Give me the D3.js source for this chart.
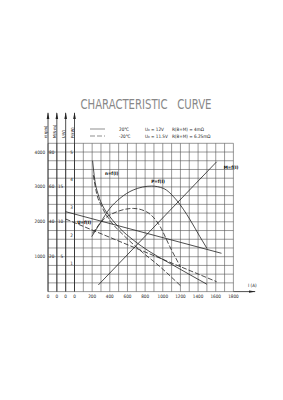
<!DOCTYPE html>
<html>
<head>
<meta charset="utf-8">
<script src="https://cdn.jsdelivr.net/npm/d3@7"></script>
<style>
  html, body { margin: 0; padding: 0; background: #fff; }
  svg { display: block; font-family: "Liberation Sans Narrow", "DejaVu Sans Condensed", "Liberation Sans", sans-serif; }
  .grid line { stroke: #555; stroke-width: 0.6; }
  .curve { fill: none; stroke: #222; stroke-width: 0.8; }
  .dashed { stroke-dasharray: 5 2; }
  .lbl { fill: #222; font-size: 4.6px; }
</style>
</head>
<body>
<div class="container"></div>
<script>
// current ticks along the bottom (A)
var currentTicks = [200, 400, 600, 800, 1000, 1200, 1400, 1600, 1800];
// left axes tick labels, each in its own unit
var speedTicks = [1000, 2000, 3000, 4000];       // n (rpm)
var torqueTicks = [20, 40, 60, 80];              // M (N·m)
var voltTicks = [5, 10, 15];                     // U (V)
var powerTicks = [1, 2, 3, 4, 5];                // P (kW)
var axisNames = ['n(rpm)', 'M(N·m)', 'U(V)', 'P(kW)'];

// [I (A), value]
var speed20 = [[205, 3750], [230, 3200], [270, 2770], [325, 2430], [400, 2150], [515, 1810],
    [665, 1480], [855, 1140], [1080, 810], [1310, 480], [1500, 210]];
var speedMinus20 = [[213, 3340], [250, 2820], [310, 2430], [400, 2050], [555, 1620],
    [740, 1190], [970, 710], [1200, 170]];
var power20 = [[195, 1.97], [290, 2.45], [400, 2.98], [515, 3.34], [665, 3.64], [875, 3.78],
    [1005, 3.70], [1155, 3.28], [1310, 2.57], [1420, 1.97], [1500, 1.55]];
var powerMinus20 = [[205, 2.09], [325, 2.57], [480, 2.86], [665, 2.98], [815, 2.86],
    [970, 2.33], [1080, 1.61], [1200, 0.89]];
var torque20 = [[270, 3.8], [1610, 74.4]];
var volt20 = [[-100, 11.45], [1665, 5.49]];
var voltMinus20 = [[-100, 10.4], [1610, 1.42]];

var legendTemps = ['20℃', '-20℃'];
var legendVolts = ['U₀ = 12V', 'U₀ = 11.5V'];
var legendRes = ['R(B+M) = 4mΩ', 'R(B+M) = 6.25mΩ'];

var WIDTH = 283, HEIGHT = 400;
var _svg;

var _x = d3.scaleLinear().domain([0, 1800]).range([74.5, 233.4]);
var _yN = d3.scaleLinear().domain([0, 4250]).range([291.6, 143.3]);
var _yM = d3.scaleLinear().domain([0, 85]).range([291.6, 143.3]);
var _yU = d3.scaleLinear().domain([0, 21.25]).range([291.6, 143.3]);
var _yP = d3.scaleLinear().domain([0, 5.3125]).range([291.6, 143.3]);

var drawCurve = function (data, yScale, dashed, curve) {
    var line = d3.line()
        .x(function (d) { return _x(d[0]); })
        .y(function (d) { return yScale(d[1]); })
        .curve(curve || d3.curveLinear);
    _svg.append('path')
        .datum(data)
        .attr('d', line)
        .classed('curve', true)
        .classed('dashed', dashed);
};

var drawChart = function () {
    _svg = d3.select('.container').append('svg')
        .attr('width', WIDTH).attr('height', HEIGHT);
    _svg.append('rect').attr('width', WIDTH).attr('height', HEIGHT).attr('fill', '#fff');

    _svg.append('text')
        .attr('x', 80.5).attr('y', 109.3)
        .attr('textLength', 131).attr('lengthAdjust', 'spacingAndGlyphs')
        .attr('fill', '#888').style('font-size', '13.5px').style('white-space', 'pre')
        .text('CHARACTERISTIC   CURVE');

    // grid
    var grid = _svg.append('g').attr('class', 'grid');
    grid.selectAll('.v').data(d3.range(-300, 1801, 100)).enter().append('line')
        .attr('x1', _x).attr('x2', _x)
        .attr('y1', _yN(0)).attr('y2', _yN(4250));
    grid.selectAll('.h').data(d3.range(0, 4251, 250)).enter().append('line')
        .attr('x1', _x(-300)).attr('x2', _x(1800))
        .attr('y1', _yN).attr('y2', _yN);

    // vertical axes with arrows
    var axisX = [-300, -200, -100, 0].map(_x);
    var axes = _svg.append('g');
    axisX.forEach(function (ax, i) {
        axes.append('line').attr('x1', ax).attr('x2', ax)
            .attr('y1', _yN(0)).attr('y2', 113)
            .attr('stroke', '#222').attr('stroke-width', 0.8);
        axes.append('path')
            .attr('d', 'M' + ax + ',112L' + (ax - 1.3) + ',119L' + (ax + 1.3) + ',119Z')
            .attr('fill', '#222');
        axes.append('text')
            .attr('transform', 'translate(' + (ax - 1) + ',138) rotate(-90)')
            .attr('class', 'lbl').style('font-size', '4px')
            .text(axisNames[i]);
        axes.append('text')
            .attr('x', ax).attr('y', 297.5).attr('text-anchor', 'middle')
            .attr('class', 'lbl').text('0');
    });

    // tick labels for each left axis
    _svg.append('g').selectAll('text').data(speedTicks).enter().append('text')
        .attr('x', axisX[0] - 3).attr('y', function (d) { return _yN(d) + 1.5; })
        .attr('text-anchor', 'end').attr('class', 'lbl').text(String);
    _svg.append('g').selectAll('text').data(torqueTicks).enter().append('text')
        .attr('x', axisX[1] - 2.5).attr('y', function (d) { return _yM(d) + 1.5; })
        .attr('text-anchor', 'end').attr('class', 'lbl').text(String);
    _svg.append('g').selectAll('text').data(voltTicks).enter().append('text')
        .attr('x', axisX[2] - 2.5).attr('y', function (d) { return _yU(d) + 1.5; })
        .attr('text-anchor', 'end').attr('class', 'lbl').text(String);
    _svg.append('g').selectAll('text').data(powerTicks).enter().append('text')
        .attr('x', axisX[3] - 1.5).attr('y', function (d) { return _yP(d) + 1.5; })
        .attr('text-anchor', 'end').attr('class', 'lbl').text(String);

    // current axis
    _svg.append('g').selectAll('text').data(currentTicks).enter().append('text')
        .attr('x', _x).attr('y', 297.5).attr('text-anchor', 'middle')
        .attr('class', 'lbl').text(String);
    _svg.append('line')
        .attr('x1', _x(1800)).attr('x2', 255).attr('y1', _yN(0)).attr('y2', _yN(0))
        .attr('stroke', '#222').attr('stroke-width', 0.8);
    _svg.append('path')
        .attr('d', 'M256,' + _yN(0) + 'L249,' + (_yN(0) - 1.2) + 'L249,' + (_yN(0) + 1.2) + 'Z')
        .attr('fill', '#222');
    _svg.append('text').attr('x', 248).attr('y', 287).attr('class', 'lbl').text('I (A)');

    // curves
    drawCurve(speed20, _yN, false, d3.curveMonotoneX);
    drawCurve(speedMinus20, _yN, true, d3.curveMonotoneX);
    drawCurve(power20, _yP, false, d3.curveMonotoneX);
    drawCurve(powerMinus20, _yP, true, d3.curveMonotoneX);
    drawCurve(torque20, _yM, false);
    drawCurve(volt20, _yU, false);
    drawCurve(voltMinus20, _yU, true);

    // curve labels [I, value on n scale, text]
    var curveLabels = [[345, 3340, 'n=f(I)'], [870, 3120, 'P=f(I)'], [1690, 3520, 'M=f(I)'], [30, 1940, 'U=f(I)']];
    _svg.append('g').selectAll('text').data(curveLabels).enter().append('text')
        .attr('x', function (d) { return _x(d[0]); })
        .attr('y', function (d) { return _yN(d[1]); })
        .attr('fill', '#000').style('font-size', '4.6px').style('font-weight', 'bold')
        .text(function (d) { return d[2]; });

    // legend
    var legend = _svg.append('g');
    [129, 136].forEach(function (ly, i) {
        legend.append('line').attr('x1', 90).attr('x2', 105).attr('y1', ly).attr('y2', ly)
            .attr('stroke', '#444').attr('stroke-width', 0.6)
            .attr('stroke-dasharray', i ? '5 2' : null);
        legend.append('text').attr('x', 119).attr('y', ly + 1.5).attr('class', 'lbl').text(legendTemps[i]);
        legend.append('text').attr('x', 145).attr('y', ly + 1.5).attr('class', 'lbl').text(legendVolts[i]);
        legend.append('text').attr('x', 172).attr('y', ly + 1.5).attr('class', 'lbl').text(legendRes[i]);
    });
};

window.onload = drawChart;
</script>
</body>
</html>
